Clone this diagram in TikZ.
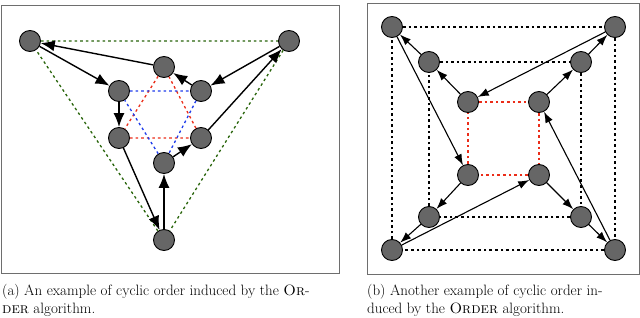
\documentclass[tikz,border=0pt]{standalone}
\usepackage{xcolor}
\usepackage{tikz}
\usetikzlibrary{arrows.meta}
\definecolor{edgegreen}{RGB}{40,100,10}
\definecolor{edgered}{RGB}{235,45,25}
\definecolor{edgeblue}{RGB}{30,60,235}
\definecolor{framegray}{RGB}{110,110,110}

\begin{document}
\begin{tikzpicture}[
        x=1pt, y=-1pt,
        vert/.style={circle, draw=black, fill=black!60, line width=0.9pt,
                     minimum size=21pt, inner sep=0pt},
        orderarc/.style={-{Latex[length=14pt, width=11pt]}, line width=1.4pt},
        orderarcsmall/.style={-{Latex[length=11pt, width=8pt]}, line width=1.1pt},
        hull/.style={line width=1.3pt, dash pattern=on 2.6pt off 3pt},
        capt/.style={anchor=north west, inner sep=0pt, align=left,
                     font=\fontsize{15}{18}\selectfont},
      ]
      \useasboundingbox (0,0) rectangle (640,318);
      % frames of the two panels
      \draw[framegray, line width=0.9pt] (1,5) rectangle (339,273);
      \draw[framegray, line width=0.9pt] (367,3) rectangle (639,274);

      % (a) triangle
      \node[vert] (atl) at (30,41) {};
      \node[vert] (atr) at (289,41) {};
      \node[vert] (abot) at (164,240) {};
      \node[vert] (atop) at (164,67) {};
      \node[vert] (aul) at (119,91) {};
      \node[vert] (aur) at (201,91) {};
      \node[vert] (all) at (119,138) {};
      \node[vert] (alr) at (201,138) {};
      \node[vert] (ainb) at (164,163) {};

      \draw[hull, edgegreen] (atl) -- (atr) -- (abot) -- (atl);
      \draw[hull, edgered] (atop) -- (all) -- (alr) -- (atop);
      \draw[hull, edgeblue] (aul) -- (aur) -- (ainb) -- (aul);

      \draw[orderarc] (atop) -- (atl);
      \draw[orderarc] (atl) -- (aul);
      \draw[orderarc] (aul) -- (all);
      \draw[orderarc] (all) -- (abot);
      \draw[orderarc] (abot) -- (ainb);
      \draw[orderarc] (ainb) -- (alr);
      \draw[orderarc] (alr) -- (atr);
      \draw[orderarc] (atr) -- (aur);
      \draw[orderarc] (aur) -- (atop);

      % (b) nested squares
      \node[vert] (btl) at (392,27) {};
      \node[vert] (btr) at (615,27) {};
      \node[vert] (bbl) at (392,250) {};
      \node[vert] (bbr) at (615,250) {};
      \node[vert] (bmtl) at (429,62) {};
      \node[vert] (bmtr) at (581,62) {};
      \node[vert] (bmbl) at (429,217) {};
      \node[vert] (bmbr) at (581,217) {};
      \node[vert] (bitl) at (468,102) {};
      \node[vert] (bitr) at (539,102) {};
      \node[vert] (bibl) at (468,175) {};
      \node[vert] (bibr) at (539,175) {};

      \draw[hull] (btl) -- (btr) -- (bbr) -- (bbl) -- (btl);
      \draw[hull] (bmtl) -- (bmtr) -- (bmbr) -- (bmbl) -- (bmtl);
      \draw[hull, edgered] (bitl) -- (bitr) -- (bibr) -- (bibl) -- (bitl);

      \draw[orderarcsmall] (bitl) -- (bmtl);
      \draw[orderarcsmall] (bmtl) -- (btl);
      \draw[orderarcsmall] (btl) -- (bibl);
      \draw[orderarcsmall] (bibl) -- (bmbl);
      \draw[orderarcsmall] (bmbl) -- (bbl);
      \draw[orderarcsmall] (bbl) -- (bibr);
      \draw[orderarcsmall] (bibr) -- (bmbr);
      \draw[orderarcsmall] (bmbr) -- (bbr);
      \draw[orderarcsmall] (bbr) -- (bitr);
      \draw[orderarcsmall] (bitr) -- (bmtr);
      \draw[orderarcsmall] (bmtr) -- (btr);
      \draw[orderarcsmall] (btr) -- (bitl);

      % captions
      \node[capt] (capa) at (2,284)
        {(a) An example of cyclic order induced by the \textsc{Or}-\\\textsc{der} algorithm.};
      \node[capt] (capb) at (367,284)
        {(b) Another example of cyclic order in-\\duced by the \textsc{Order} algorithm.};
    \end{tikzpicture}
\end{document}
